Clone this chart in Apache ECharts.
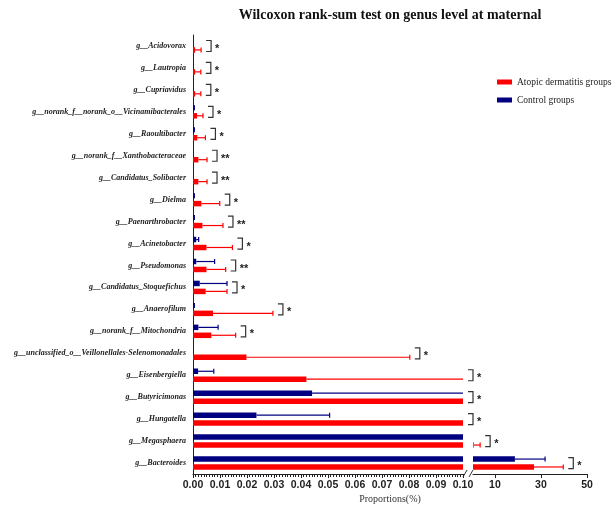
<!DOCTYPE html>
<html>
<head>
<meta charset="utf-8">
<script src="https://cdn.jsdelivr.net/npm/echarts@6/dist/echarts.min.js"></script>
<style>
  html, body { margin: 0; padding: 0; background: #fff; }
  #chart { width: 613px; height: 507px; }
</style>
</head>
<body>
<div id="chart"></div>
<script>
// genera, top to bottom
const genera = [
  'g__Acidovorax', 'g__Lautropia', 'g__Cupriavidus',
  'g__norank_f__norank_o__Vicinamibacterales', 'g__Raoultibacter',
  'g__norank_f__Xanthobacteraceae', 'g__Candidatus_Solibacter', 'g__Dielma',
  'g__Paenarthrobacter', 'g__Acinetobacter', 'g__Pseudomonas',
  'g__Candidatus_Stoquefichus', 'g__Anaerofilum', 'g__norank_f__Mitochondria',
  'g__unclassified_o__Veillonellales-Selenomonadales', 'g__Eisenbergiella',
  'g__Butyricimonas', 'g__Hungatella', 'g__Megasphaera', 'g__Bacteroides'
];
// mean and SD, proportions (%)
const adMean = [0.0008, 0.0008, 0.0008, 0.0015, 0.0016, 0.002, 0.002, 0.0031, 0.0035, 0.005,
  0.005, 0.0047, 0.0074, 0.0068, 0.0198, 0.042, 0.2, 0.25, 0.8, 27.0];
const adSd = [0.0022, 0.0021, 0.0021, 0.0022, 0.003, 0.0032, 0.0032, 0.0068, 0.0076, 0.0096,
  0.0071, 0.0079, 0.0222, 0.009, 0.0605, 0.26, 0.15, 0.2, 2.8, 12.7];
const ctrlMean = [0, 0, 0, 0.0004, 0.0004, 0, 0, 0.0004, 0.0004, 0.0012,
  0.0012, 0.0025, 0.0004, 0.002, 0, 0.0019, 0.0441, 0.0235, 0.3, 18.7];
const ctrlSd = [0, 0, 0, 0.0001, 0.0001, 0, 0, 0.0001, 0.0001, 0.0009,
  0.0068, 0.0101, 0.0001, 0.0073, 0, 0.0058, 0.25, 0.0271, 0.1, 13.1];
const sigMarks = ['*', '*', '*', '*', '*', '**', '**', '*', '**', '*',
  '**', '*', '*', '*', '*', '*', '*', '*', '*', '*'];
const leftTicks = [0, 0.01, 0.02, 0.03, 0.04, 0.05, 0.06, 0.07, 0.08, 0.09, 0.1];
const rightTicks = [10, 30, 50];

const LEFT_MAX = 0.1, RIGHT_MIN = 0.5, RIGHT_MAX = 50;
const RED = '#ff0000', NAVY = '#000080';
const AD = 'Atopic dermatitis groups', CTRL = 'Control groups';

const rowEnd = genera.map((g, i) => Math.max(adMean[i] + adSd[i], ctrlMean[i] + ctrlSd[i]));

const chart = echarts.init(document.getElementById('chart'));

// error bar (mean -> mean+sd) with cap, split over the two axis segments
function errorSeries(means, sds, color, grid, shift) {
  return {
    type: 'custom', xAxisIndex: grid, yAxisIndex: grid, silent: true, z: 3,
    data: means.map((m, i) => [i, m, sds[i]]),
    encode: { y: 0, x: 1 },
    renderItem(params, api) {
      const i = api.value(0), m = api.value(1), s = api.value(2);
      const end = m + s;
      let from, to, cap;
      if (grid === 0) {
        if (s <= 0 || m >= LEFT_MAX) return { type: 'group', children: [] };
        from = m; to = Math.min(end, LEFT_MAX); cap = end <= LEFT_MAX;
      } else {
        if (s <= 0 || end <= RIGHT_MIN) return { type: 'group', children: [] };
        from = Math.max(m, RIGHT_MIN); to = end; cap = true;
      }
      const dy = api.size([0, 1])[1] * shift;
      const a = api.coord([from, i]), b = api.coord([to, i]);
      const y = a[1] + dy;
      const children = [{ type: 'line', shape: { x1: a[0], y1: y, x2: b[0], y2: y },
        style: { stroke: color, lineWidth: 1.2 } }];
      if (cap) children.push({ type: 'line', shape: { x1: b[0], y1: y - 2.5, x2: b[0], y2: y + 2.5 },
        style: { stroke: color, lineWidth: 1.2 } });
      return { type: 'group', children };
    }
  };
}

// significance bracket + stars after the longest error bar of each row
function bracketSeries(grid) {
  return {
    type: 'custom', xAxisIndex: grid, yAxisIndex: grid, silent: true, z: 4,
    data: genera.map((g, i) => [i, rowEnd[i]]),
    encode: { y: 0, x: 1 },
    renderItem(params, api) {
      const i = api.value(0), end = api.value(1);
      const onRight = end > RIGHT_MIN;
      if ((grid === 1) !== onRight) return { type: 'group', children: [] };
      const p = api.coord([grid === 0 ? Math.min(end, LEFT_MAX) : end, i]);
      const x0 = p[0] + 5, x1 = x0 + 5, cy = p[1], h = 5.5;
      return {
        type: 'group',
        children: [
          { type: 'polyline', shape: { points: [[x0, cy - h], [x1, cy - h], [x1, cy + h], [x0, cy + h]] },
            style: { stroke: '#333', lineWidth: 1.2, fill: null } },
          { type: 'text', x: x1 + 4, y: cy + 3,
            style: { text: sigMarks[i], font: 'bold 11px "Liberation Sans"', fill: '#222',
              verticalAlign: 'middle', align: 'left' } }
        ]
      };
    }
  };
}

const catAxis = {
  type: 'category', data: genera, inverse: true,
  axisLine: { lineStyle: { color: '#222', width: 1 } },
  axisTick: { length: 5, alignWithLabel: true, lineStyle: { color: '#222' } },
  axisLabel: { margin: 7, fontFamily: 'Liberation Serif', fontStyle: 'italic', fontWeight: 'bold',
    fontSize: 8, color: '#222' }
};

const bar = (name, values, color, grid) => ({
  name, type: 'bar', xAxisIndex: grid, yAxisIndex: grid, data: values,
  barWidth: 5.5, barGap: '45%', itemStyle: { color }, clip: true, silent: true
});

chart.setOption({
  animation: false,
  graphic: [
    { type: 'text', x: 390, y: 8, style: { text: 'Wilcoxon rank-sum test on genus level at maternal',
      font: 'bold 14px "Liberation Serif"', fill: '#111', align: 'center' } },
    { type: 'text', x: 390, y: 494, style: { text: 'Proportions(%)',
      font: '10px "Liberation Serif"', fill: '#333', align: 'center' } },
    { type: 'line', shape: { x1: 463, y1: 477, x2: 467, y2: 470 }, style: { stroke: '#333', lineWidth: 1 } },
    { type: 'line', shape: { x1: 469, y1: 477, x2: 473, y2: 470 }, style: { stroke: '#333', lineWidth: 1 } }
  ],
  legend: {
    data: [AD, CTRL], orient: 'vertical', left: 492, top: 72,
    itemWidth: 15, itemHeight: 5, itemGap: 8, icon: 'rect',
    textStyle: { fontFamily: 'Liberation Serif', fontSize: 9.5, color: '#222' }
  },
  grid: [
    { left: 193, width: 270, top: 35, height: 439 },
    { left: 473, width: 114, top: 35, height: 439 }
  ],
  xAxis: [
    {
      type: 'value', gridIndex: 0, min: 0, max: LEFT_MAX, interval: 0.01,
      axisLine: { show: true, lineStyle: { color: '#222' } },
      axisTick: { show: true, length: 4, lineStyle: { color: '#222' } },
      minorTick: { show: true, splitNumber: 10, length: 3, lineStyle: { color: '#222' } },
      splitLine: { show: false },
      axisLabel: { margin: 6, fontFamily: 'Liberation Sans', fontWeight: 'bold', fontSize: 10.5,
        color: '#222', formatter: v => leftTicks.some(t => Math.abs(t - v) < 1e-9) ? v.toFixed(2) : '' }
    },
    {
      type: 'value', gridIndex: 1, min: RIGHT_MIN, max: RIGHT_MAX,
      axisLine: { show: true, lineStyle: { color: '#222' } },
      axisTick: { show: true, length: 4, customValues: rightTicks, lineStyle: { color: '#222' } },
      splitLine: { show: false },
      axisLabel: { margin: 6, fontFamily: 'Liberation Sans', fontWeight: 'bold', fontSize: 10.5,
        color: '#222', customValues: rightTicks }
    }
  ],
  yAxis: [
    Object.assign({ gridIndex: 0 }, catAxis),
    { type: 'category', gridIndex: 1, data: genera, inverse: true, show: false }
  ],
  series: [
    bar(CTRL, ctrlMean, NAVY, 0),
    bar(AD, adMean, RED, 0),
    bar(CTRL, ctrlMean, NAVY, 1),
    bar(AD, adMean, RED, 1),
    errorSeries(ctrlMean, ctrlSd, NAVY, 0, -0.18),
    errorSeries(adMean, adSd, RED, 0, 0.18),
    errorSeries(ctrlMean, ctrlSd, NAVY, 1, -0.18),
    errorSeries(adMean, adSd, RED, 1, 0.18),
    bracketSeries(0),
    bracketSeries(1)
  ]
});
</script>
</body>
</html>
